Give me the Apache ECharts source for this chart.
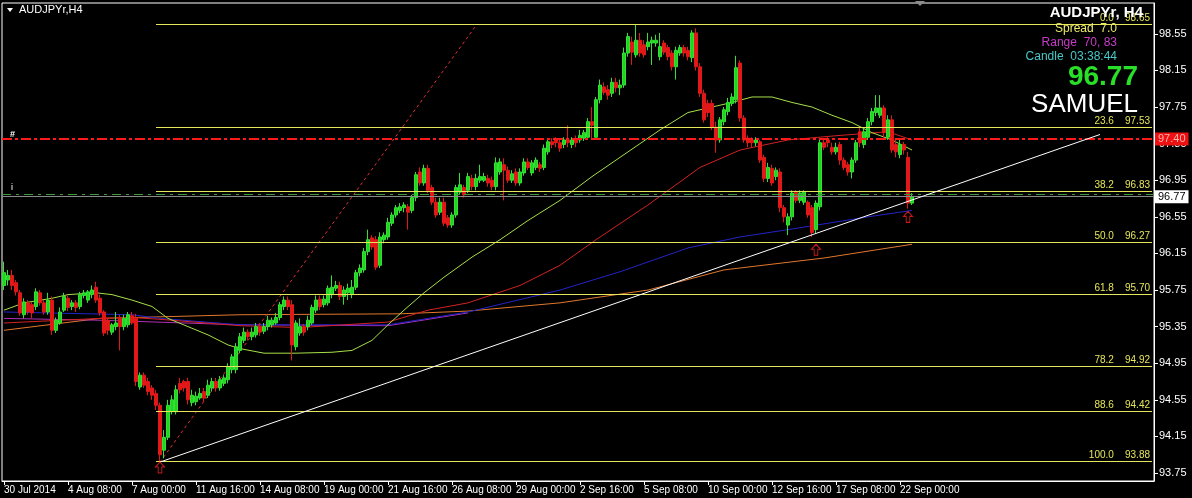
<!DOCTYPE html>
<html><head><meta charset="utf-8">
<script src="https://cdn.jsdelivr.net/npm/echarts@6/dist/echarts.min.js"></script>
<style>html,body{margin:0;padding:0;background:#000;}#c{width:1192px;height:498px;}</style>
</head><body><div id="c"></div>
<script>
// ---- data ----
const startLabel = '30 Jul 2014';
const barCount = 228;       // H4 bars 30 Jul 16:00 .. 22 Sep 12:00
const emptyRight = 60;      // chart shift area
// [open, close, low, high]
const candles = [
[95.80,95.94,95.75,96.06],[95.86,95.91,95.80,95.97],[95.91,95.80,95.75,95.97],[95.83,95.73,95.69,95.86],
[95.72,95.50,95.47,95.75],[95.48,95.62,95.44,95.66],[95.61,95.51,95.48,95.64],[95.59,95.50,95.44,95.62],
[95.57,95.73,95.53,95.77],[95.72,95.61,95.58,95.75],[95.61,95.51,95.48,95.64],[95.51,95.64,95.48,95.72],
[95.64,95.31,95.26,95.68],[95.31,95.42,95.28,95.45],[95.39,95.51,95.37,95.56],[95.53,95.68,95.51,95.72],
[95.66,95.56,95.52,95.69],[95.57,95.61,95.53,95.64],[95.61,95.56,95.51,95.64],[95.57,95.70,95.54,95.73],
[95.69,95.72,95.66,95.75],[95.64,95.73,95.61,95.75],[95.70,95.75,95.66,95.80],[95.78,95.64,95.61,95.84],
[95.66,95.50,95.47,95.70],[95.51,95.28,95.25,95.53],[95.42,95.31,95.26,95.45],[95.29,95.37,95.26,95.39],
[95.35,95.39,95.31,95.51],[95.44,95.35,95.09,95.48],[95.35,95.44,95.31,95.48],[95.37,95.48,95.34,95.51],
[95.47,95.39,95.37,95.51],[95.44,94.75,94.70,95.49],[94.69,94.82,94.66,94.85],[94.82,94.71,94.68,94.85],
[94.75,94.64,94.60,94.79],[94.68,94.60,94.55,94.71],[94.62,94.49,94.44,94.66],[94.49,93.95,93.87,94.52],
[94.00,94.14,93.91,94.22],[94.14,94.49,94.11,94.55],[94.42,94.55,94.39,94.60],[94.42,94.66,94.39,94.71],
[94.73,94.66,94.62,94.79],[94.75,94.68,94.64,94.77],[94.75,94.55,94.50,94.79],[94.52,94.60,94.48,94.66],
[94.53,94.59,94.49,94.64],[94.57,94.62,94.55,94.68],[94.64,94.57,94.53,94.68],[94.60,94.71,94.57,94.77],
[94.68,94.75,94.64,94.79],[94.75,94.68,94.64,94.79],[94.68,94.77,94.65,94.81],[94.73,94.79,94.70,94.82],
[94.77,94.91,94.73,94.95],[94.88,95.02,94.84,95.05],[94.88,95.13,94.84,95.17],[95.09,95.24,95.06,95.28],
[95.20,95.29,95.17,95.34],[95.29,95.24,95.20,95.32],[95.24,95.29,95.20,95.34],[95.26,95.35,95.23,95.39],
[95.35,95.29,95.25,95.39],[95.30,95.35,95.27,95.39],[95.35,95.42,95.31,95.47],[95.37,95.42,95.34,95.45],
[95.39,95.45,95.37,95.50],[95.45,95.59,95.42,95.62],[95.57,95.64,95.53,95.68],[95.64,95.57,95.53,95.68],
[95.59,95.15,94.98,95.64],[95.13,95.39,95.09,95.42],[95.28,95.35,95.25,95.44],[95.35,95.29,95.25,95.38],
[95.35,95.42,95.31,95.47],[95.39,95.56,95.37,95.59],[95.53,95.64,95.50,95.69],[95.65,95.57,95.53,95.69],
[95.59,95.65,95.56,95.69],[95.61,95.77,95.58,95.80],[95.70,95.78,95.66,95.91],[95.77,95.80,95.74,95.85],
[95.80,95.68,95.64,95.84],[95.68,95.75,95.59,95.79],[95.72,95.77,95.64,95.82],[95.70,95.78,95.66,95.86],
[95.78,95.94,95.75,95.97],[95.94,95.99,95.90,96.03],[95.97,96.17,95.94,96.21],[96.17,96.30,96.13,96.41],
[96.32,96.22,96.19,96.35],[96.30,96.00,95.97,96.34],[96.02,96.33,95.99,96.38],[96.30,96.35,96.26,96.38],
[96.33,96.49,96.30,96.54],[96.48,96.57,96.45,96.60],[96.57,96.65,96.54,96.68],[96.62,96.66,96.59,96.70],
[96.65,96.68,96.60,96.71],[96.66,96.60,96.41,96.69],[96.62,96.76,96.59,96.79],[96.76,97.01,96.72,97.04],
[97.04,96.92,96.89,97.09],[96.92,97.08,96.89,97.12],[97.08,96.84,96.81,97.12],[96.87,96.71,96.68,96.90],
[96.71,96.57,96.54,96.76],[96.60,96.71,96.57,96.76],[96.71,96.48,96.45,96.76],[96.54,96.46,96.43,96.57],
[96.46,96.57,96.43,96.60],[96.57,96.87,96.54,96.90],[96.82,96.90,96.79,97.03],[96.87,96.79,96.76,96.90],
[96.84,96.99,96.81,97.03],[96.97,96.88,96.84,97.01],[96.88,96.97,96.84,97.02],[96.95,96.99,96.92,97.12],
[96.95,96.99,96.93,97.03],[96.97,96.92,96.88,97.01],[96.95,96.88,96.84,96.99],[96.88,97.14,96.84,97.20],
[97.04,97.15,97.01,97.19],[97.12,97.06,96.73,97.19],[97.06,96.95,96.92,97.10],[96.95,97.02,96.92,97.06],
[97.04,96.92,96.89,97.08],[96.92,97.04,96.89,97.08],[97.03,97.15,97.00,97.19],[97.15,97.09,97.06,97.19],
[97.03,97.14,97.00,97.17],[97.09,97.17,97.06,97.20],[97.12,97.08,97.04,97.15],[97.09,97.30,97.06,97.34],
[97.26,97.37,97.23,97.41],[97.37,97.34,97.30,97.41],[97.39,97.36,97.31,97.42],[97.36,97.30,97.26,97.39],
[97.34,97.39,97.30,97.42],[97.39,97.36,97.31,97.55],[97.34,97.39,97.30,97.42],[97.39,97.36,97.31,97.44],
[97.39,97.44,97.36,97.50],[97.41,97.47,97.38,97.50],[97.42,97.59,97.39,97.63],[97.59,97.55,97.41,97.75],
[97.42,97.83,97.39,97.86],[97.83,97.99,97.79,98.05],[97.97,97.91,97.88,98.02],[97.94,97.88,97.83,97.99],
[97.90,98.02,97.86,98.07],[98.02,97.96,97.91,98.07],[97.96,97.99,97.88,98.05],[97.99,98.34,97.96,98.40],
[98.34,98.52,98.30,98.56],[98.46,98.35,98.21,98.52],[98.32,98.48,98.29,98.65],[98.48,98.34,98.30,98.56],
[98.43,98.32,98.29,98.48],[98.41,98.46,98.37,98.56],[98.45,98.48,98.21,98.52],[98.45,98.48,98.41,98.54],
[98.30,98.41,98.26,98.56],[98.45,98.35,98.32,98.48],[98.40,98.30,98.26,98.43],[98.34,98.19,98.15,98.37],
[98.19,98.37,98.05,98.41],[98.34,98.40,98.31,98.43],[98.40,98.34,98.30,98.43],[98.37,98.30,98.26,98.41],
[98.29,98.56,98.24,98.59],[98.56,98.19,98.15,98.61],[98.19,97.90,97.86,98.23],[97.90,97.61,97.58,97.94],
[97.79,97.69,97.64,97.83],[97.79,97.53,97.50,97.83],[97.53,97.39,97.25,97.59],[97.39,97.61,97.36,97.64],
[97.59,97.72,97.55,97.75],[97.70,97.80,97.66,97.85],[97.79,97.86,97.76,97.90],[97.83,98.18,97.79,98.31],
[98.23,97.63,97.59,98.26],[97.63,97.39,97.36,97.66],[97.41,97.36,97.31,97.44],[97.39,97.36,97.31,97.42],
[97.36,97.39,97.32,97.42],[97.37,97.17,97.14,97.39],[97.20,96.97,96.93,97.23],[96.97,97.09,96.93,97.14],
[97.08,96.92,96.89,97.12],[96.99,97.06,96.95,97.09],[97.04,96.65,96.60,97.08],[96.65,96.55,96.49,96.68],
[96.46,96.55,96.35,96.59],[96.55,96.81,96.51,96.84],[96.82,96.73,96.70,96.84],[96.73,96.81,96.70,96.84],
[96.71,96.82,96.68,96.84],[96.71,96.57,96.54,96.73],[96.65,96.38,96.33,96.68],[96.41,96.70,96.37,96.73],
[96.66,97.36,96.62,97.39],[97.36,97.31,97.28,97.41],[97.39,97.36,97.31,97.42],[97.31,97.26,97.23,97.36],
[97.26,97.31,97.23,97.36],[97.34,97.17,97.12,97.37],[97.17,97.09,97.06,97.20],[97.12,97.04,97.00,97.15],
[97.04,97.17,96.97,97.20],[97.17,97.36,97.14,97.39],[97.48,97.36,97.31,97.52],[97.34,97.48,97.30,97.52],
[97.42,97.59,97.39,97.63],[97.59,97.70,97.55,97.74],[97.69,97.74,97.65,97.88],[97.66,97.74,97.63,97.88],
[97.74,97.47,97.42,97.77],[97.42,97.61,97.39,97.66],[97.61,97.28,97.25,97.66],[97.34,97.26,97.20,97.39],
[97.23,97.34,97.19,97.39],[97.34,97.28,97.23,97.37],[97.20,96.70,96.64,97.26],[96.70,96.77,96.68,96.81]
];
// moving averages: [barIndex, price]
const maGreen = [[0,95.53],[5,95.61],[12,95.66],[16,95.70],[23,95.72],[27,95.70],[32,95.64],[37,95.57],[41,95.44],[46,95.35],[51,95.26],[56,95.15],[59,95.11],[65,95.06],[73,95.06],[82,95.07],[87,95.09],[92,95.20],[96,95.37],[100,95.53],[105,95.72],[110,95.89],[117,96.11],[124,96.30],[131,96.51],[139,96.73],[147,96.99],[156,97.26],[164,97.50],[171,97.69],[177,97.75],[182,97.80],[187,97.86],[192,97.86],[197,97.80],[202,97.75],[207,97.66],[212,97.58],[217,97.47],[222,97.39],[227,97.28]];
const maRed = [[0,95.39],[24,95.44],[32,95.45],[39,95.43],[59,95.36],[74,95.34],[96,95.40],[106,95.53],[116,95.61],[129,95.80],[139,96.02],[148,96.30],[161,96.68],[174,97.09],[184,97.28],[196,97.39],[209,97.44],[221,97.48],[227,97.39]];
const maBlue = [[0,95.51],[32,95.48],[39,95.44],[59,95.37],[96,95.37],[116,95.51],[139,95.75],[154,95.95],[171,96.21],[184,96.33],[196,96.41],[206,96.48],[216,96.55],[227,96.62]];
const maMagenta = [[0,95.44],[24,95.42],[59,95.37],[96,95.36],[116,95.50]];
const maOrange = [[0,95.31],[24,95.44],[59,95.48],[99,95.49],[116,95.52],[139,95.61],[161,95.75],[180,95.97],[205,96.10],[227,96.25]];
const trendLine = [[39,93.87],[274,97.45]];
const gannLine = [[39,93.87],[118,98.64]];
const fibPercents = ['0.0','23.6','38.2','50.0','61.8','78.2','88.6','100.0'];
const fibPrices = [98.65,97.53,96.83,96.27,95.70,94.92,94.42,93.88];
const fibStartBar = 38;
const arrows = [[39,93.81],[203,96.19],[226,96.55]];
const yTicks = [93.75,94.15,94.55,94.95,95.35,95.75,96.15,96.55,96.95,97.35,97.75,98.15,98.55];
const bidPrice = 96.77, askPrice = 96.80, alertPrice = 97.40;
const monthNames = ['Jan','Feb','Mar','Apr','May','Jun','Jul','Aug','Sep','Oct','Nov','Dec'];

// categories: H4 bars skipping weekends
const categories = [];
let t = Date.UTC(2014,6,30,16);
while (categories.length < barCount) {
  const d = new Date(t);
  const wd = d.getUTCDay();
  if (wd !== 0 && wd !== 6) {
    const hh = String(d.getUTCHours()).padStart(2,'0');
    categories.push(categories.length === 0 ? startLabel : d.getUTCDate()+' '+monthNames[d.getUTCMonth()]+' '+hh+':00');
  }
  t += 4*3600*1000;
}
for (let k=0;k<emptyRight;k++) categories.push('');
const lastIdx = categories.length-1;

const font = '"Liberation Sans", Arial, sans-serif';
const chart = echarts.init(document.getElementById('c'), null, {renderer:'canvas'});
const lineS = (data, color, extra) => Object.assign({type:'line', data, symbol:'none', silent:true, smooth:false,
  lineStyle:{color, width:1}, z:3, animation:false}, extra||{});

chart.setOption({
  backgroundColor:'#000',
  animation:false,
  grid:{left:2, right:38, top:3, bottom:17, show:true, borderColor:'#fff', borderWidth:1, backgroundColor:'#000'},
  xAxis:{type:'category', data:categories, boundaryGap:true,
    axisLine:{lineStyle:{color:'#fff'}},
    axisTick:{show:true, alignWithLabel:true, length:4, lineStyle:{color:'#fff'},
      interval:(i)=> i%16===0 && i<barCount},
    axisLabel:{interval:(i)=> i%16===0 && i<barCount, hideOverlap:false, showMaxLabel:true, align:'left', margin:4, color:'#fff', fontSize:10, fontFamily:font},
    splitLine:{show:false}},
  yAxis:{type:'value', position:'right', min:93.663, max:98.887, scale:true,
    axisLine:{show:true, lineStyle:{color:'#fff'}},
    axisTick:{show:true, length:4, lineStyle:{color:'#fff'}, customValues:yTicks},
    axisLabel:{color:'#fff', fontSize:11, fontFamily:font, margin:5, customValues:yTicks, formatter:(v)=>v.toFixed(2)},
    splitLine:{show:false}},
  series:[
    // fibonacci levels
    {type:'line', data:[], silent:true, z:2,
      markLine:{symbol:'none', silent:true, animation:false,
        lineStyle:{color:'#e6e65a', width:1, type:'solid'},
        label:{position:'insideEndTop', color:'#e6e65a', fontSize:10, fontFamily:font, distance:[2,1]},
        data: fibPrices.map((p,k)=>[{coord:[fibStartBar,p], label:{formatter:fibPercents[k]+'    '+p.toFixed(2)}},{coord:[lastIdx,p]}])}},
    // ask / bid / alert lines
    {type:'line', data:[], silent:true, z:2,
      markLine:{symbol:'none', silent:true, animation:false,
        data:[
          {yAxis:askPrice, lineStyle:{color:'#3c9a3c', width:1, type:[9,5,3,5]}, label:{show:false}},
          {yAxis:bidPrice, lineStyle:{color:'#8a8a8a', width:1, type:'solid'},
            label:{show:true, position:'end', distance:1, formatter:bidPrice.toFixed(2), color:'#000', backgroundColor:'#fff', fontSize:11, fontFamily:font, padding:[1,3,1,3]}},
          {yAxis:alertPrice, lineStyle:{color:'#ff1a1a', width:2, type:[10,3,3,3]},
            label:{show:true, position:'end', distance:1, formatter:alertPrice.toFixed(2), color:'#ffb0b0', backgroundColor:'#ee1111', fontSize:11, fontFamily:font, padding:[1,3,1,3]}}
        ]}},
    lineS(maOrange,'#e0782c'),
    lineS(maMagenta,'#b030b8'),
    lineS(maBlue,'#2323c8'),
    lineS(maRed,'#d42222'),
    lineS(maGreen,'#a6e048'),
    lineS(gannLine,'#e03030',{lineStyle:{color:'#e03030', width:1, type:[3,3]}}),
    {type:'candlestick', data:candles, barWidth:3, z:4, silent:true,
      itemStyle:{color:'#22d422', color0:'#e01818', borderColor:'#33e033', borderColor0:'#e01818', borderWidth:1}},
    lineS(trendLine,'#ffffff',{z:5}),
    {type:'scatter', data:arrows, silent:true, z:6,
      symbol:'path://M5,0 L10,5 L7,5 L7,11 L3,11 L3,5 L0,5 Z', symbolSize:[9,11],
      itemStyle:{color:'rgba(0,0,0,0)', borderColor:'#ff2020', borderWidth:1}}
  ],
  graphic:[
    {type:'polygon', shape:{points:[[7,8],[13,8],[10,12]]}, style:{fill:'#fff'}, z:10},
    {type:'text', left:19, top:4, style:{text:'AUDJPYr,H4', fill:'#fff', font:'11px '+font}, z:10},
    {type:'polygon', shape:{points:[[915,1],[925,1],[920,6]]}, style:{fill:'#8c8c8c'}, z:10},
    {type:'text', left:10, top:130, style:{text:'#', fill:'#fff', font:'bold 9px '+font}, z:10},
    {type:'text', left:11, top:183, style:{text:'i', fill:'#fff', font:'9px '+font}, z:10},
    {type:'text', right:49, top:5, style:{text:'AUDJPYr, H4', fill:'#fff', font:'bold 15px '+font}, z:10},
    {type:'text', right:75, top:23, style:{text:'Spread  7.0', fill:'#ecec6a', font:'12px '+font}, z:10},
    {type:'text', right:75, top:37, style:{text:'Range  70, 83', fill:'#c83cc8', font:'12px '+font}, z:10},
    {type:'text', right:75, top:51, style:{text:'Candle  03:38:44', fill:'#48c8c8', font:'12px '+font}, z:10},
    {type:'text', right:54, top:63, style:{text:'96.77', fill:'#28e028', font:'bold 28px '+font}, z:10},
    {type:'text', right:54, top:92, style:{text:'SAMUEL', fill:'#fff', font:'26px '+font}, z:10}
  ]
});
</script></body></html>
